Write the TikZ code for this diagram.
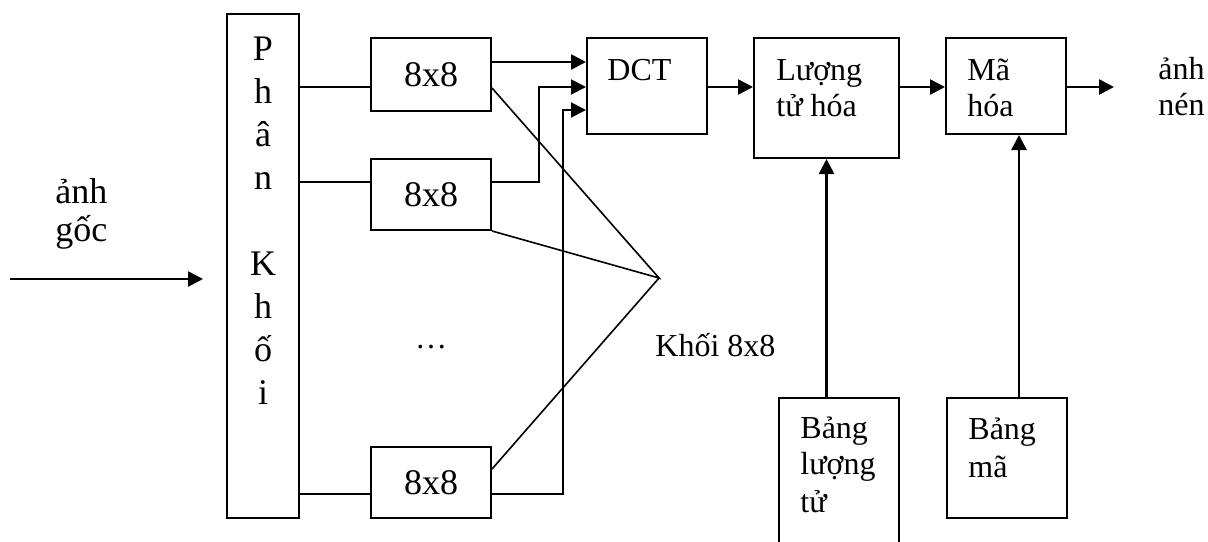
\documentclass[tikz,border=0pt]{standalone}
\usepackage{fontspec}
\setmainfont{Liberation Serif}
\usetikzlibrary{arrows.meta}
\begin{document}
\begin{tikzpicture}[x=0.5pt,y=-0.5pt,
  box/.style={draw,line width=1pt,inner sep=0pt},
  thinline/.style={line width=0.8pt},
  arr/.style={line width=1.3pt,-{Triangle[length=7.5pt,width=7.5pt]}},
  txt/.style={inner sep=0pt,anchor=base west,font=\fontsize{16}{18}\selectfont},
  bigtxt/.style={font=\fontsize{18}{20}\selectfont}]
\clip (0,0) rectangle (1208,541);
% boxes
\node[box,minimum width=36pt,minimum height=252pt] (phan) at (263,266) {};
\node[box,bigtxt,minimum width=60pt,minimum height=36.5pt] (b1) at (431,74.5) {8x8};
\node[box,bigtxt,minimum width=60pt,minimum height=35.5pt] (b2) at (431,194.5) {8x8};
\node[box,bigtxt,minimum width=60pt,minimum height=35.5pt] (b3) at (431,482.5) {8x8};
\node[box,minimum width=60pt,minimum height=48pt] (dct) at (647,86) {};
\node[box,minimum width=72.5pt,minimum height=60pt] (luong) at (826.5,98) {};
\node[box,minimum width=60pt,minimum height=48pt] (ma) at (1006,86) {};
\node[box,minimum width=60pt,minimum height=73pt] (bl) at (839,471) {};
\node[box,minimum width=60pt,minimum height=60pt] (bm) at (1007,458) {};
% letters of Phan Khoi
\foreach \ch [count=\k from 0] in {P,h,â,n,{},K,h,ố,i}
  \node[inner sep=0pt,anchor=base,bigtxt] at (263,60+43*\k) {\ch};
% texts
\node[txt] (tdct) at (607,80) {DCT};
\node[txt] (tl1) at (776,80) {Lượng};
\node[txt] (tl2) at (776,116) {tử hóa};
\node[txt] (tm1) at (967,80) {Mã};
\node[txt] (tm2) at (967,116) {hóa};
\node[txt] (to1) at (1158,79) {ảnh};
\node[txt] (to2) at (1158,115) {nén};
\node[txt] (tb1) at (800,438) {Bảng};
\node[txt] (tb2) at (800,474) {lượng};
\node[txt] (tb3) at (800,512) {tử};
\node[txt] (tc1) at (968,439) {Bảng};
\node[txt] (tc2) at (968,477) {mã};
\node[txt,bigtxt] (ti1) at (55,203) {ảnh};
\node[txt,bigtxt] (ti2) at (55,241) {gốc};
\node[txt,anchor=base] (dots) at (431,348) {…};
\node[txt] (tk) at (655,356) {Khối 8x8};
% helper coordinates
\coordinate (inS) at (10,279);
\coordinate (inE) at (203,279);
\coordinate (out) at (1114,87);
\coordinate (K) at (659,278);
\coordinate (r1) at (0,87);
\coordinate (r2) at (0,182);
\coordinate (r3) at (0,494);
\coordinate (a1) at (0,62);
\coordinate (a3) at (0,110);
\coordinate (d1) at (0,88);
\coordinate (d3) at (0,469);
\coordinate (j2) at (539,0);
\coordinate (j3) at (563,0);
\coordinate (j4) at (1019,0);
% connectors
\draw[arr] (inS) -- (inE);
\draw[thinline] (phan.east |- r1) -- (b1.west |- r1);
\draw[thinline] (phan.east |- r2) -- (b2.west |- r2);
\draw[thinline] (phan.east |- r3) -- (b3.west |- r3);
\draw[arr] (b1.east |- a1) -- (dct.west |- a1);
\draw[arr,line width=1pt] (b2.east |- r2) -| (j2 |- r1) -- (dct.west |- r1);
\draw[arr,line width=1pt] (b3.east |- r3) -| (j3 |- a3) -- (dct.west |- a3);
\draw[arr] (dct.east |- r1) -- (luong.west |- r1);
\draw[arr] (luong.east |- r1) -- (ma.west |- r1);
\draw[arr] (ma.east |- r1) -- (out);
\draw[arr] (luong.south |- bl.north) -- (luong.south);
\draw[arr] (j4 |- bm.north) -- (j4 |- ma.south);
\draw[thinline] (b1.east |- d1) -- (K) -- (b2.south east);
\draw[thinline] (K) -- (b3.east |- d3);
\end{tikzpicture}
\end{document}
